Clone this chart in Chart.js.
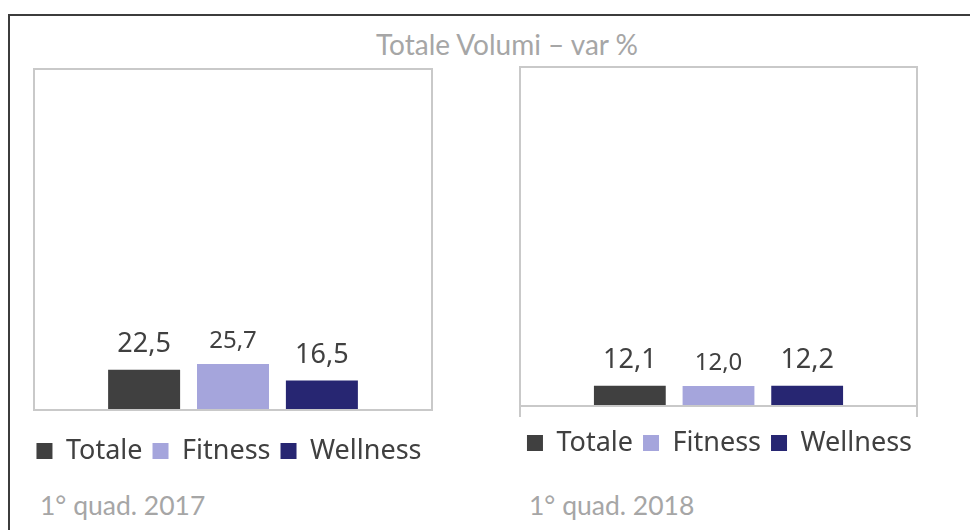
<!DOCTYPE html>
<html>
<head>
<meta charset="utf-8">
<title>Totale Volumi – var %</title>
<script src="https://cdn.jsdelivr.net/npm/chart.js@4/dist/chart.umd.min.js"></script>
<style>
    body { margin: 0; background: #fff; width: 970px; height: 530px; overflow: hidden; position: relative; }
    .frame { position: absolute; left: 8px; top: 14px; width: 1000px; height: 600px; border-top: 2px solid #3c3c3c; border-left: 2px solid #3c3c3c; }
    .title { position: absolute; left: 507px; top: 30px; transform: translateX(-50%); font-family: Lato, sans-serif; font-size: 28px; line-height: 28px; color: #a6a6a6; white-space: nowrap; }
    .sub { position: absolute; top: 492px; font-family: Lato, sans-serif; font-size: 26.5px; line-height: 26px; color: #a6a6a6; white-space: nowrap; }
    .box { position: absolute; top: 60px; height: 420px; }
</style>
</head>
<body>
<div class="frame"></div>
<div class="title">Totale Volumi – var %</div>

<div class="box" style="left:0px; width:458px;"><canvas id="chart2017"></canvas></div>
<div class="box" style="left:485px; width:469px;"><canvas id="chart2018"></canvas></div>

<div class="sub" id="sub2017" style="left:40px;"></div>
<div class="sub" id="sub2018" style="left:529px;"></div>

<script>
// data
var categories = ['1° quad. 2017', '1° quad. 2018'];
var seriesNames = ['Totale', 'Fitness', 'Wellness'];
var totale = [22.5, 12.1];
var fitness = [25.7, 12.0];
var wellness = [16.5, 12.2];

var seriesColors = ['#404040', '#a5a5dc', '#272672'];
// Fitness labels are printed a bit smaller in the original
var labelSizes = [27, 24, 27];
var labelOffsets = [18, 16, 18];

// box around the plot area (+ small tick marks under the axis on the right one)
var plotBox = {
    id: 'plotBox',
    afterDraw: function(chart, args, opts) {
        var a = chart.chartArea;
        var ctx = chart.ctx;
        ctx.save();
        ctx.strokeStyle = '#c9c9c9';
        ctx.lineWidth = 2;
        ctx.strokeRect(a.left, a.top, a.right - a.left, a.bottom - a.top);
        if (opts.ticks) {
            ctx.beginPath();
            ctx.moveTo(a.left, a.bottom);
            ctx.lineTo(a.left, a.bottom + opts.ticks);
            ctx.moveTo(a.right, a.bottom);
            ctx.lineTo(a.right, a.bottom + opts.ticks);
            ctx.stroke();
        }
        ctx.restore();
    }
};

// value labels above the bars, italian decimal comma
var valueLabels = {
    id: 'valueLabels',
    afterDatasetsDraw: function(chart) {
        var ctx = chart.ctx;
        ctx.save();
        ctx.fillStyle = '#404040';
        ctx.textAlign = 'center';
        ctx.textBaseline = 'alphabetic';
        chart.data.datasets.forEach(function(ds, i) {
            ctx.font = labelSizes[i] + 'px "Noto Sans"';
            chart.getDatasetMeta(i).data.forEach(function(bar, j) {
                var txt = ds.data[j].toFixed(1).replace('.', ',');
                ctx.fillText(txt, bar.x, bar.y - labelOffsets[i]);
            });
        });
        ctx.restore();
    }
};

// invisible axis that only reserves space
function spacer(pos, size, extra) {
    var s = {
        display: true,
        position: pos,
        ticks: { display: false },
        grid: { display: false },
        border: { display: false },
        afterFit: function(axis) {
            if (axis.isHorizontal()) axis.height = size; else axis.width = size;
        }
    };
    return Object.assign(s, extra || {});
}

function makeChart(id, idx, yMax, gaps) {
    var ctx = document.getElementById(id).getContext('2d');
    var values = [totale, fitness, wellness];
    return new Chart(ctx, {
        type: 'bar',
        data: {
            labels: [categories[idx]],
            datasets: seriesNames.map(function(name, i) {
                return {
                    label: name,
                    data: [values[i][idx]],
                    backgroundColor: seriesColors[i],
                    borderWidth: 0,
                    categoryPercentage: 0.67,
                    barPercentage: 0.81
                };
            })
        },
        options: {
            responsive: true,
            maintainAspectRatio: false,
            animation: false,
            layout: { padding: { left: 0, right: 0, top: gaps.top, bottom: gaps.bottom } },
            scales: {
                x: spacer('bottom', gaps.axis),
                y: spacer('left', gaps.left, { min: 0, max: yMax }),
                yRight: spacer('right', gaps.right, { min: 0, max: yMax })
            },
            plugins: {
                legend: {
                    position: 'bottom',
                    labels: {
                        boxWidth: 16,
                        boxHeight: 16,
                        padding: 10,
                        color: '#404040',
                        font: { family: '"Noto Sans"', size: 27 }
                    }
                },
                tooltip: { enabled: false },
                plotBox: { ticks: gaps.ticks }
            }
        },
        plugins: [plotBox, valueLabels]
    });
}

makeChart('chart2017', 0, 191, { left: 34, right: 26, top: 9, bottom: 5.5, axis: 17.5, ticks: 0 });
makeChart('chart2018', 1, 203, { left: 35, right: 37, top: 7, bottom: 13.5, axis: 13.5, ticks: 11 });

document.getElementById('sub2017').textContent = categories[0];
document.getElementById('sub2018').textContent = categories[1];
</script>
</body>
</html>
